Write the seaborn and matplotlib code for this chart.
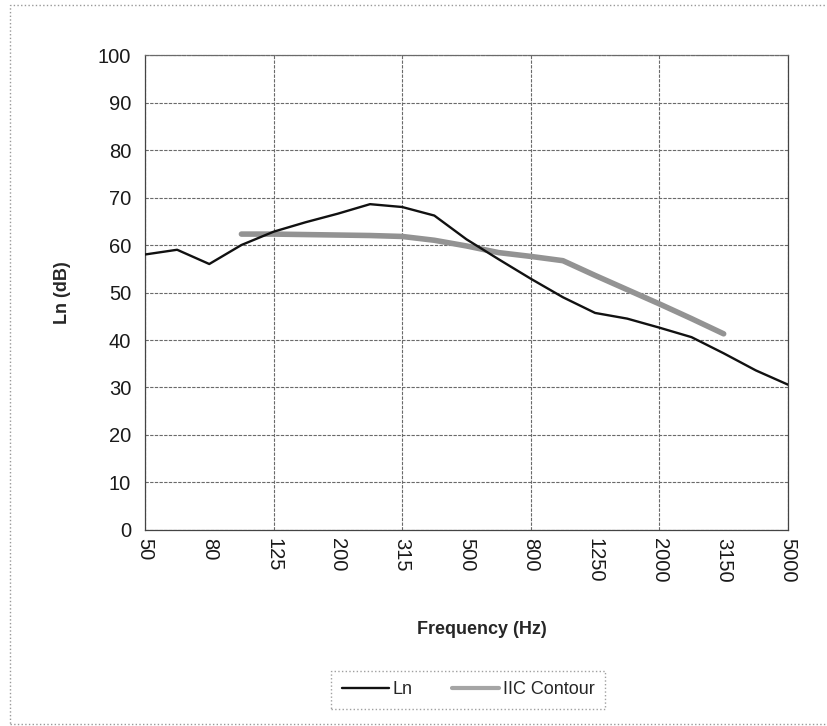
import numpy as np
import pandas as pd
import matplotlib
matplotlib.use("Agg")
import matplotlib.pyplot as plt
import seaborn as sns
from matplotlib.patches import Rectangle

# frecuencias de tercio de octava (Hz)
freqs = [50, 63, 80, 100, 125, 160, 200, 250, 315, 400, 500, 630, 800,
         1000, 1250, 1600, 2000, 2500, 3150, 4000, 5000]
# nivel de impacto normalizado Ln (dB)
ln = [58.0, 59.0, 56.0, 60.0, 62.8, 64.8, 66.6, 68.6, 68.0, 66.2, 61.2,
      57.0, 52.9, 49.0, 45.7, 44.5, 42.6, 40.6, 37.2, 33.6, 30.6]
# contorno IIC, de 100 a 3150 Hz
iic_freqs = [100, 125, 160, 200, 250, 315, 400, 500, 630, 800, 1000,
             1250, 1600, 2000, 2500, 3150]
iic = [62.3, 62.3, 62.2, 62.1, 62.0, 61.8, 61.0, 59.8, 58.4, 57.6, 56.7,
       53.6, 50.6, 47.6, 44.5, 41.3]
ytick_vals = list(range(0, 101, 10))

df_ln = pd.DataFrame({"pos": [freqs.index(f) for f in freqs], "Ln": ln})
df_iic = pd.DataFrame({"pos": [freqs.index(f) for f in iic_freqs], "IIC": iic})

sns.set_style("white")
plt.rcParams["font.family"] = ["Liberation Sans", "DejaVu Sans"]

fig = plt.figure(figsize=(8.27, 7.26), dpi=100)
ax = fig.add_axes([0.1753, 0.2700, 0.7775, 0.6542])

sns.lineplot(data=df_ln, x="pos", y="Ln", color="#111111", lw=1.7,
             label="Ln", ax=ax, zorder=4)
sns.lineplot(data=df_iic, x="pos", y="IIC", color="#939393", lw=4,
             label="IIC Contour", ax=ax, zorder=3)

ax.set_xlim(0, len(freqs) - 1)
ax.set_ylim(0, 100)

# rejilla: horizontal cada 10 dB, vertical cada 4 bandas
ax.set_yticks(ytick_vals)
ax.grid(axis="y", color="#6a6a6a", ls=(0, (3, 1.2)), lw=0.8)
ax.grid(axis="x", visible=False)
for p in range(0, len(freqs), 4):
    ax.axvline(p, color="#6a6a6a", ls=(0, (3, 1.2)), lw=0.8, zorder=1)

ax.set_xticks(range(0, len(freqs), 2))
ax.set_xticklabels([str(freqs[i]) for i in range(0, len(freqs), 2)],
                   rotation=-90)
ax.tick_params(axis="x", direction="inout", length=6, width=0.8,
               labelsize=14.5, pad=3, colors="#333333", labelcolor="#1a1a1a")
ax.tick_params(axis="y", direction="out", length=4, width=0.8,
               labelsize=14.5, pad=6, colors="#333333", labelcolor="#1a1a1a")

for s in ax.spines.values():
    s.set_color("#444444")
    s.set_linewidth(0.9)
ax.spines["top"].set_linestyle((0, (3, 1.2)))
ax.spines["top"].set_color("#6a6a6a")

ax.set_xlabel("Frequency (Hz)", fontsize=13, fontweight="bold")
ax.xaxis.set_label_coords(0.524, -0.192)
ax.set_ylabel("Ln (dB)", fontsize=13, fontweight="bold")
ax.yaxis.set_label_coords(-0.115, 0.5)

leg = ax.legend(loc="center", bbox_to_anchor=(0.566, 0.0496),
                bbox_transform=fig.transFigure, ncol=2, fontsize=13,
                frameon=True, fancybox=False, handlelength=2.6,
                columnspacing=2.2, borderpad=0.6, handletextpad=0.2)
leg.get_frame().set_edgecolor("#888888")
leg.get_frame().set_linestyle(":")
leg.get_frame().set_linewidth(1)
leg.get_lines()[1].set_linewidth(3)
leg.get_lines()[1].set_color("#a5a5a5")

# borde punteado del escaneo
fig.patches.append(Rectangle((0.0121, 0.003), 1.0, 0.99, transform=fig.transFigure,
                             fill=False, ec="#999999", ls=":", lw=1))

fig.savefig("out.png", dpi=100)
